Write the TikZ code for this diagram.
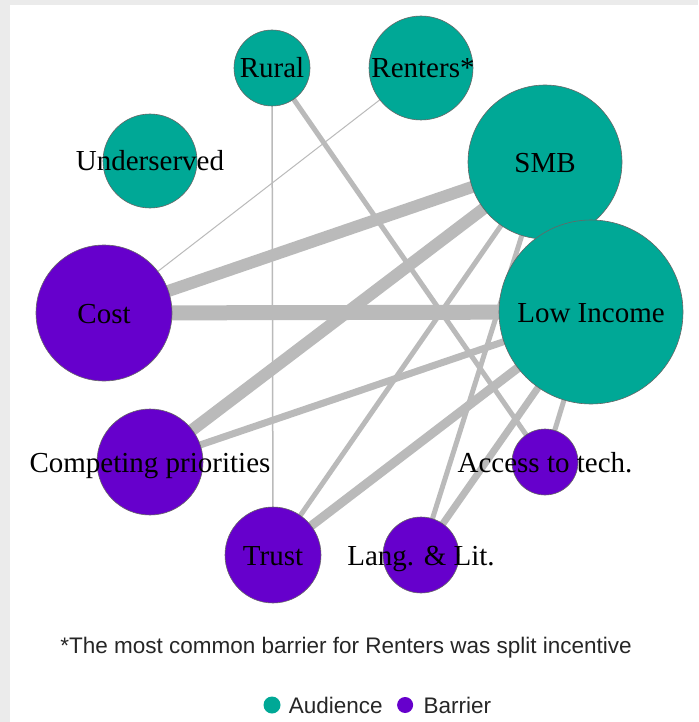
\documentclass[tikz,border=0pt]{standalone}
\usepackage{fontspec}
\setmainfont{Liberation Serif}
\setsansfont{Liberation Sans}
\usetikzlibrary{positioning}
\definecolor{audience}{RGB}{0,168,150}
\definecolor{barrier}{RGB}{102,0,204}
\definecolor{edgegray}{RGB}{186,186,186}
\definecolor{panelgray}{RGB}{235,235,235}
\pgfdeclarelayer{panel}
\pgfdeclarelayer{edges}
\pgfsetlayers{panel,edges,main}
\tikzset{
  aud/.style={circle, fill=audience, draw=black!60, line width=0.6pt, inner sep=0pt},
  bar/.style={circle, fill=barrier, draw=black!60, line width=0.6pt, inner sep=0pt},
  lbl/.style={font=\fontsize{29}{30}\selectfont, text=black, inner sep=0pt, text height=20pt, text depth=0pt},
  tie/.style={draw=edgegray, line cap=butt},
  key/.style={font=\sffamily\fontsize{22.5}{25}\selectfont, text=black!85, inner sep=0pt},
}

\begin{document}
\begin{tikzpicture}[x=1pt,y=-1pt]
\begin{pgfonlayer}{panel}
\fill[panelgray] (0,0) rectangle (698,722);
\fill[white] (10,5) rectangle (698,722);
\end{pgfonlayer}
\useasboundingbox (0,0) rectangle (698,722);

% audiences
\node[aud, minimum size=76pt] (rural) at (272,68) {};
\node[aud, minimum size=104pt] (renters) at (421,68) {};
\node[aud, minimum size=94pt] (underserved) at (150,161) {};
\node[aud, minimum size=154pt] (smb) at (545,162) {};
\node[aud, minimum size=184pt] (lowinc) at (591,312) {};
% barriers
\node[bar, minimum size=136pt] (cost) at (104,313) {};
\node[bar, minimum size=106pt] (comp) at (150,462) {};
\node[bar, minimum size=96pt] (trust) at (273,555) {};
\node[bar, minimum size=76pt] (lang) at (421,555) {};
\node[bar, minimum size=66pt] (access) at (545,462) {};

% labels
\node[lbl] (rural-l) at (rural) {Rural};
\node[lbl] (renters-l) at (423,68) {Renters*};
\node[lbl] (underserved-l) at (underserved) {Underserved};
\node[lbl] (smb-l) at (smb) {SMB};
\node[lbl] (lowinc-l) at (lowinc) {Low Income};
\node[lbl] (cost-l) at (cost) {Cost};
\node[lbl] (comp-l) at (comp) {Competing priorities};
\node[lbl] (trust-l) at (trust) {Trust};
\node[lbl] (lang-l) at (lang) {Lang. \& Lit.};
\node[lbl] (access-l) at (access) {Access to tech.};

% ties
\begin{pgfonlayer}{edges}
\draw[tie, line width=15pt] (cost.center) -- (lowinc.center);
\draw[tie, line width=12pt] (cost.center) -- (smb.center);
\draw[tie, line width=12pt] (comp.center) -- (smb.center);
\draw[tie, line width=9pt] (trust.center) -- (lowinc.center);
\draw[tie, line width=7pt] (lang.center) -- (lowinc.center);
\draw[tie, line width=7pt] (comp.center) -- (lowinc.center);
\draw[tie, line width=5pt] (rural.center) -- (access.center);
\draw[tie, line width=5pt] (trust.center) -- (smb.center);
\draw[tie, line width=5pt] (lang.center) -- (smb.center);
\draw[tie, line width=5pt] (access.center) -- (lowinc.center);
\draw[tie, line width=1.5pt] (rural.center) -- (trust.center);
\draw[tie, line width=1pt] (renters.center) -- (cost.center);
\end{pgfonlayer}

% note and legend
\node[key] (note) at (346,648) {*The most common barrier for Renters was split incentive};
\node[circle, fill=audience, minimum size=17pt, inner sep=0pt] (keyaud) at (272,705) {};
\node[key, right=8pt of keyaud] (keyaud-t) {Audience};
\node[circle, fill=barrier, minimum size=16pt, inner sep=0pt, right=14pt of keyaud-t] (keybar) {};
\node[key, right=10pt of keybar] (keybar-t) {Barrier};
\end{tikzpicture}
\end{document}
